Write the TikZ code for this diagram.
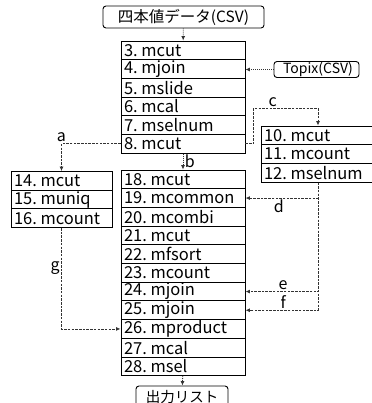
\documentclass[tikz,border=0pt]{standalone}
\usepackage{fontspec}
\setmainfont{Noto Sans CJK JP}
\usetikzlibrary{arrows.meta}
\begin{document}
\begin{tikzpicture}[x=1pt, y=-1pt,
    cmd/.style={draw, rectangle, line width=0.9pt, minimum height=18.7pt, inner xsep=3pt, inner ysep=0pt, align=left, font=\fontsize{16.5}{17}\selectfont},
    io/.style={draw, rectangle, rounded corners=3pt, line width=0.9pt, inner sep=0pt, font=\fontsize{14.5}{16}\selectfont},
    flow/.style={-{Latex[length=4.5pt,width=4pt]}, line width=0.8pt, black!80, dash pattern=on 2.5pt off 1.2pt},
    dot/.style={-{Latex[length=4.5pt,width=4pt]}, line width=0.8pt, black!80, dash pattern=on 1pt off 1pt},
    lbl/.style={font=\fontsize{16}{17}\selectfont, text=black, inner sep=1.5pt}
]
\useasboundingbox (0,0) rectangle (371,403);

% entrées / sortie
\node[io, minimum width=161pt, minimum height=22pt, font=\fontsize{15.5}{16}\selectfont] (src) at (183.5,17) {四本値データ(CSV)};
\node[io, minimum width=85pt, minimum height=16pt, font=\fontsize{14}{15}\selectfont] (topix) at (316.5,69.5) {\hspace{3pt}Topix(CSV)};
\node[io, minimum width=92pt, minimum height=22pt] (out) at (182,397) {出力リスト};

% colonne principale
\foreach \i/\name in {3/mcut, 4/mjoin, 5/mslide, 6/mcal, 7/mselnum, 8/mcut}
    \node[cmd, text width=118pt] (r\i) at (183,{50.35+18.7*(\i-3)}) {\i.\hspace{0.22em}\name};
\foreach \i/\name in {18/mcut, 19/mcommon, 20/mcombi, 21/mcut, 22/mfsort, 23/mcount, 24/mjoin, 25/mjoin, 26/mproduct, 27/mcal, 28/msel}
    \node[cmd, text width=118pt] (r\i) at (183,{179.35+18.7*(\i-18)}) {\i.\hspace{0.22em}\name};

% branches
\foreach \i/\name in {10/mcut, 11/mcount, 12/mselnum}
    \node[cmd, text width=108pt] (r\i) at (318,{135.35+18.7*(\i-10)}) {\i.\hspace{0.22em}\name};
\foreach \i/\name in {14/mcut, 15/muniq, 16/mcount}
    \node[cmd, text width=95pt] (r\i) at (61.5,{180.85+18.7*(\i-14)}) {\i.\hspace{0.22em}\name};

% liens
\draw[dot] (src) -- (r3);
\draw[dot] (topix.west) -- (topix.west -| r4.east);
\draw[dot] (r8) -- node[lbl, right] {b} (r18);
\draw[dot] (r28) -- (out);
\draw[flow] (r8.west) -| node[lbl, above, pos=0.5] {a} (r14.north);
\draw[flow] (r8.east) -- ++(8,0) -- ++(0,-35) -| node[lbl, above, pos=0.15] {c} (r10.north);
\draw[flow] (r12.south) |- node[lbl, below, pos=0.77] {d} (r19.east);
\draw[flow] (r12.south) |- node[lbl, above, pos=0.74] {e} (r24.east);
\draw[flow] (r12.south) |- node[lbl, above, pos=0.74] {f} (r25.east);
\draw[flow] (r16.south) |- node[lbl, left, pos=0.2] {g} (r26.west);
\end{tikzpicture}
\end{document}
